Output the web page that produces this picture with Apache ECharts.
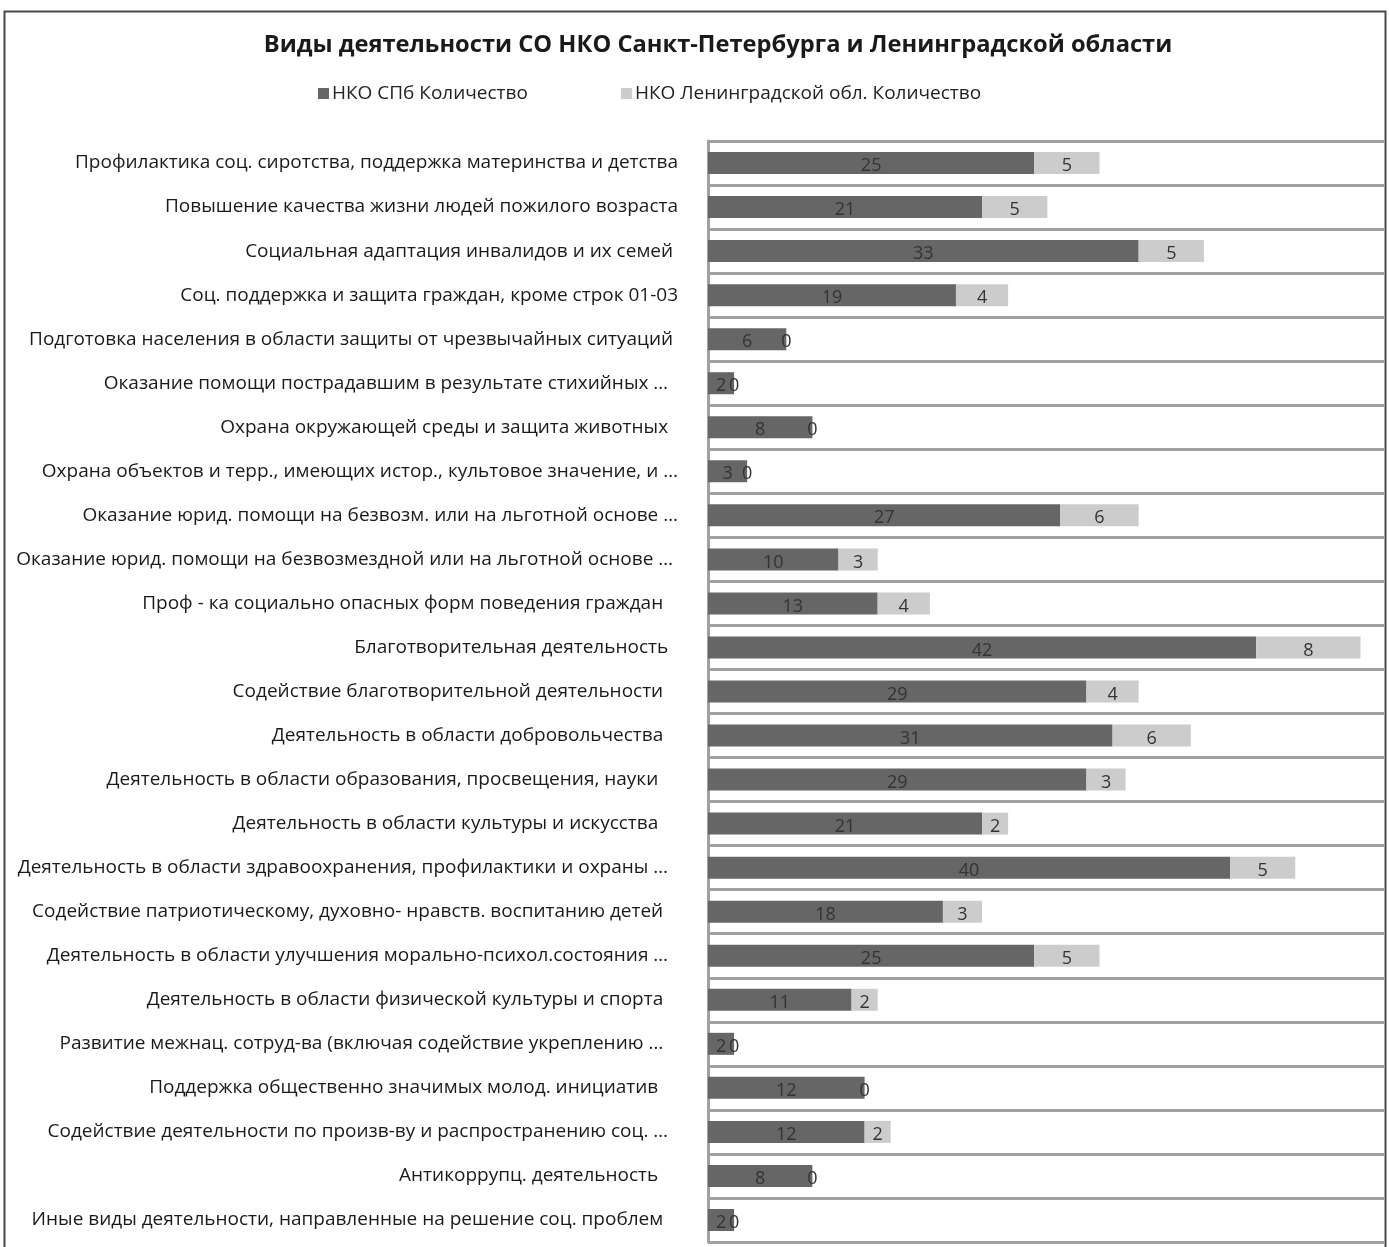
<!DOCTYPE html>
<html>
<head>
<meta charset="utf-8">
<script src="https://cdn.jsdelivr.net/npm/echarts@6/dist/echarts.min.js"></script>
<style>
html,body{margin:0;padding:0;background:#fff;}
#chart{width:1389px;height:1247px;}
</style>
</head>
<body>
<div id="chart"></div>
<script>
const categories = [
  "Профилактика соц. сиротства, поддержка материнства и детства",
  "Повышение качества жизни людей пожилого возраста",
  "Социальная адаптация инвалидов и их семей ",
  "Соц. поддержка и защита граждан, кроме строк 01-03",
  "Подготовка населения в области защиты от чрезвычайных ситуаций ",
  "Оказание помощи пострадавшим в результате стихийных …  ",
  "Охрана окружающей среды и защита животных  ",
  "Охрана объектов и терр., имеющих истор., культовое значение, и …",
  "Оказание юрид. помощи на безвозм. или на льготной основе …",
  "Оказание юрид. помощи на безвозмездной или на льготной основе … ",
  "Проф - ка социально опасных форм поведения граждан   ",
  "Благотворительная деятельность  ",
  "Содействие благотворительной деятельности   ",
  "Деятельность в области добровольчества   ",
  "Деятельность в области образования, просвещения, науки    ",
  "Деятельность в области культуры и искусства    ",
  "Деятельность в области здравоохранения, профилактики и охраны …  ",
  "Содействие патриотическому, духовно- нравств. воспитанию детей   ",
  "Деятельность в области улучшения морально-психол.состояния …  ",
  "Деятельность в области физической культуры и спорта   ",
  "Развитие межнац. сотруд-ва (включая содействие укреплению …   ",
  "Поддержка общественно значимых молод. инициатив    ",
  "Содействие деятельности по произв-ву и распространению соц. …  ",
  "Антикоррупц. деятельность    ",
  "Иные виды деятельности, направленные на решение соц. проблем   "
];
const spbCounts = [25, 21, 33, 19, 6, 2, 8, 3, 27, 10, 13, 42, 29, 31, 29, 21, 40, 18, 25, 11, 2, 12, 12, 8, 2];
const lenCounts = [5, 5, 5, 4, 0, 0, 0, 0, 6, 3, 4, 8, 4, 6, 3, 2, 5, 3, 5, 2, 0, 0, 2, 0, 0];
const seriesNames = ["НКО СПб Количество", "НКО Ленинградской обл. Количество"];
const chartTitle = "Виды деятельности СО НКО Санкт-Петербурга и Ленинградской области";

const FONT = '"Open Sans", sans-serif';
const chart = echarts.init(document.getElementById('chart'), null, {renderer: 'canvas'});
const labelStyle = {
  show: true, position: 'inside', color: '#333', fontSize: 18,
  fontFamily: FONT, offset: [0, 3]
};
chart.setOption({
  animation: false,
  backgroundColor: '#fff',
  title: {
    text: chartTitle, left: 713, textAlign: 'center', top: 28,
    textStyle: {fontFamily: FONT, fontSize: 23.7, fontWeight: 'bold', color: '#1a1a1a'}
  },
  legend: {
    top: 79, left: 313, itemWidth: 11, itemHeight: 11, itemGap: 93,
    icon: 'rect',
    textStyle: {fontFamily: FONT, fontSize: 19, color: '#222', padding: [0, 0, 0, -2]},
    data: seriesNames
  },
  graphic: [{
    type: 'rect', left: 2, top: 9, silent: true,
    shape: {width: 1381, height: 1250},
    style: {fill: 'none', stroke: '#4a4a4a', lineWidth: 2}
  }],
  grid: {left: 708, right: 5, top: 141, bottom: 5, containLabel: false},
  xAxis: {
    type: 'value', min: 0, max: 51.8, show: false
  },
  yAxis: {
    type: 'category', inverse: true, data: categories,
    axisLine: {show: true, lineStyle: {color: '#a0a0a0', width: 3}},
    axisTick: {show: false},
    splitLine: {show: true, interval: 0, lineStyle: {color: '#a0a0a0', width: 3}},
    axisLabel: {interval: 0, margin: 30, fontFamily: FONT, fontSize: 19, color: '#1a1a1a'}
  },
  series: [
    {
      name: seriesNames[0], type: 'bar', stack: 'total', data: spbCounts,
      barWidth: 22, itemStyle: {color: '#666666'}, label: labelStyle
    },
    {
      name: seriesNames[1], type: 'bar', stack: 'total', data: lenCounts,
      barWidth: 22, itemStyle: {color: '#cccccc'}, label: labelStyle
    }
  ]
});
</script>
</body>
</html>
